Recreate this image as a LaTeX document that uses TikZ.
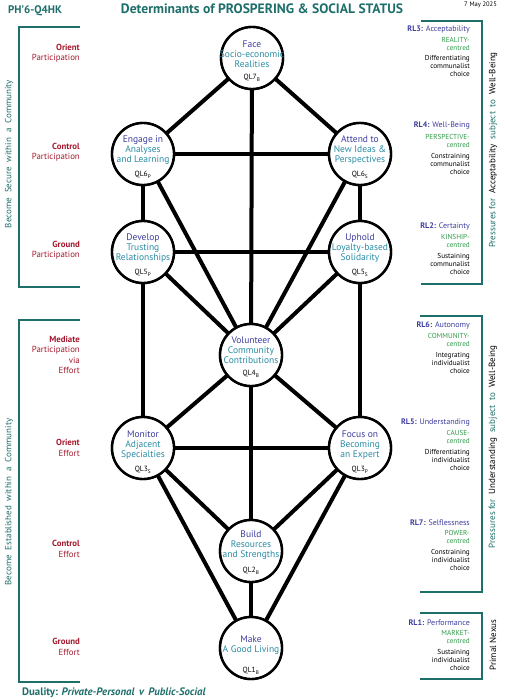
\documentclass[tikz,border=0pt]{standalone}
\usepackage{fontspec}
\setmainfont{PT Sans}
\definecolor{tealdk}{HTML}{1E6E6A}
\definecolor{qblue}{HTML}{3D3D9E}
\definecolor{qteal}{HTML}{2A8CA5}
\definecolor{dred}{HTML}{A3192D}
\definecolor{rgreen}{HTML}{2E9A48}
\begin{document}
\begin{tikzpicture}[x=1pt,y=-1pt,
  qlc/.style={circle, draw=black, line width=2.4pt, fill=white, minimum size=62pt, inner sep=0pt},
  edgeln/.style={line width=4pt, line cap=butt},
  ntxt/.style={align=center, font=\fontsize{9.5}{10.2}\selectfont, inner sep=0pt, text=qteal},
  qltxt/.style={font=\fontsize{7.5}{8}\selectfont, inner sep=0pt},
  llab/.style={align=right, anchor=east, font=\fontsize{8.8}{10.4}\selectfont, text=dred, inner sep=0pt},
  rlab/.style={anchor=east, font=\fontsize{8}{9}\selectfont, text=qblue, inner sep=0pt},
  glab/.style={align=right, anchor=east, font=\fontsize{7.2}{8.3}\selectfont, text=rgreen, inner sep=0pt},
  klab/.style={align=right, anchor=east, font=\fontsize{7.2}{8.3}\selectfont, text=black, inner sep=0pt},
  brk/.style={draw=tealdk, line width=2pt},
  sidetxt/.style={rotate=90, font=\fontsize{9}{10}\selectfont, inner sep=0pt}
]
\useasboundingbox (0,0) rectangle (504,700);

% circles (positions)
\node[qlc] (face) at (252,58) {};
\node[qlc] (engage) at (143,154) {};
\node[qlc] (attend) at (360,154) {};
\node[qlc] (develop) at (143,252) {};
\node[qlc] (uphold) at (360,252) {};
\node[qlc] (volunteer) at (251,355) {};
\node[qlc] (monitor) at (143,448) {};
\node[qlc] (focus) at (360,448) {};
\node[qlc] (build) at (251,551) {};
\node[qlc] (make) at (251,648) {};

% edges
\draw[edgeln] (face.center) -- (engage.center);
\draw[edgeln] (face.center) -- (attend.center);
\draw[edgeln] (face.center) -- (volunteer.center);
\draw[edgeln] (engage.center) -- (attend.center);
\draw[edgeln] (engage.center) -- (develop.center);
\draw[edgeln] (attend.center) -- (uphold.center);
\draw[edgeln] (engage.center) -- (volunteer.center);
\draw[edgeln] (attend.center) -- (volunteer.center);
\draw[edgeln] (develop.center) -- (uphold.center);
\draw[edgeln] (develop.center) -- (volunteer.center);
\draw[edgeln] (uphold.center) -- (volunteer.center);
\draw[edgeln] (develop.center) -- (monitor.center);
\draw[edgeln] (uphold.center) -- (focus.center);
\draw[edgeln] (volunteer.center) -- (monitor.center);
\draw[edgeln] (volunteer.center) -- (focus.center);
\draw[edgeln] (volunteer.center) -- (build.center);
\draw[edgeln] (monitor.center) -- (focus.center);
\draw[edgeln] (monitor.center) -- (build.center);
\draw[edgeln] (focus.center) -- (build.center);
\draw[edgeln] (monitor.center) -- (make.center);
\draw[edgeln] (focus.center) -- (make.center);
\draw[edgeln] (build.center) -- (make.center);

% circles on top of edges
\foreach \n in {face,engage,attend,develop,uphold,volunteer,monitor,focus,build,make}{
  \fill[white] (\n.center) circle (30pt);
  \draw[line width=2.4pt] (\n.center) circle (31pt);
}

% node texts
\node[ntxt] (tface) at ([yshift=4pt]face.center) {\textcolor{qblue}{Face}\\Socio-economic\\Realities};
\node[ntxt] (tengage) at ([yshift=4pt]engage.center) {\textcolor{qblue}{Engage in}\\Analyses\\and Learning};
\node[ntxt] (tattend) at ([yshift=4pt]attend.center) {\textcolor{qblue}{Attend to}\\New Ideas \&\\Perspectives};
\node[ntxt] (tdevelop) at ([yshift=4pt]develop.center) {\textcolor{qblue}{Develop}\\Trusting\\Relationships};
\node[ntxt] (tuphold) at ([yshift=4pt]uphold.center) {\textcolor{qblue}{Uphold}\\Loyalty-based\\Solidarity};
\node[ntxt] (tvolunteer) at ([yshift=5pt]volunteer.center) {\textcolor{qblue}{Volunteer}\\Community\\Contributions};
\node[ntxt] (tmonitor) at ([yshift=3pt]monitor.center) {\textcolor{qblue}{Monitor}\\Adjacent\\Specialties};
\node[ntxt] (tfocus) at ([yshift=3pt]focus.center) {\textcolor{qblue}{Focus on}\\Becoming\\an Expert};
\node[ntxt] (tbuild) at ([yshift=6pt]build.center) {\textcolor{qblue}{Build}\\Resources\\and Strengths};
\node[ntxt] (tmake) at ([yshift=3pt]make.center) {\textcolor{qblue}{Make}\\A Good Living};

\node[qltxt] (qface) at ([yshift=-20pt]face.center) {QL7\textsubscript{B}};
\node[qltxt] (qengage) at ([yshift=-21pt]engage.center) {QL6\textsubscript{P}};
\node[qltxt] (qattend) at ([yshift=-21pt]attend.center) {QL6\textsubscript{S}};
\node[qltxt] (qdevelop) at ([yshift=-21pt]develop.center) {QL5\textsubscript{P}};
\node[qltxt] (quphold) at ([yshift=-21pt]uphold.center) {QL5\textsubscript{S}};
\node[qltxt] (qvolunteer) at ([yshift=-19pt]volunteer.center) {QL4\textsubscript{B}};
\node[qltxt] (qmonitor) at ([yshift=-22pt]monitor.center) {QL3\textsubscript{S}};
\node[qltxt] (qfocus) at ([yshift=-22pt]focus.center) {QL3\textsubscript{P}};
\node[qltxt] (qbuild) at ([yshift=-20pt]build.center) {QL2\textsubscript{B}};
\node[qltxt] (qmake) at ([yshift=-23pt]make.center) {QL1\textsubscript{B}};

% header
\node[anchor=west, font=\bfseries\fontsize{11}{13}\selectfont, text=tealdk, inner sep=0pt] (code) at (8,11) {PH’6-Q4HK};
\node[font=\bfseries\fontsize{13.6}{15}\selectfont, text=tealdk, inner sep=0pt] (title) at (262,9) {Determinants of PROSPERING \& SOCIAL STATUS};
\node[anchor=east, font=\fontsize{6.5}{8}\selectfont, inner sep=0pt] (date) at (497,5) {7 May 2025};
\node[anchor=west, font=\bfseries\fontsize{10.8}{12}\selectfont, text=tealdk, inner sep=0pt] (duality) at (22,693) {Duality: \textit{Private-Personal\, v\, Public-Social}};

% left brackets
\draw[brk] (80,27) -- (19,27) -- (19,287) -- (80,287);
\draw[brk] (80,320) -- (19,320) -- (19,682) -- (80,682);
\node[sidetxt, text=tealdk] (lsec) at (9,154) {Become\; Secure\; within\; a\; Community};
\node[sidetxt, text=tealdk] (lest) at (9,502) {Become\; Established\; within\; a\; Community};

% left labels
\node[llab] (l1) at (80,53) {\textbf{Orient}\\Participation};
\node[llab] (l2) at (80,152) {\textbf{Control}\\Participation};
\node[llab] (l3) at (80,250) {\textbf{Ground}\\Participation};
\node[llab] (l4) at (80,355) {\textbf{Mediate}\\Participation\\via\\Effort};
\node[llab] (l5) at (80,448) {\textbf{Orient}\\Effort};
\node[llab] (l6) at (80,549) {\textbf{Control}\\Effort};
\node[llab] (l7) at (80,647) {\textbf{Ground}\\Effort};

% right brackets
\draw[brk] (421,21) -- (482,21) -- (482,284) -- (421,284);
\draw[brk] (420,316) -- (482,316) -- (482,592) -- (420,592);
\draw[brk] (420,613) -- (482,613) -- (482,679) -- (420,679);
\node[sidetxt] (racc) at (493,150) {\textcolor{tealdk}{Pressures for}\; Acceptability\; \textcolor{tealdk}{subject\; to}\; Well-Being};
\node[sidetxt] (rund) at (493,447) {\textcolor{tealdk}{Pressures for}\; Understanding\; \textcolor{tealdk}{subject\; to}\; Well-Being};
\node[sidetxt] (rnex) at (493,645) {Primal Nexus};

% right labels
\node[rlab] (rl3) at (470,29) {\textbf{RL3:} Acceptability};
\node[glab] (g3) at (470,44) {REALITY-\\centred};
\node[klab] (k3) at (470,66) {Differentiating\\communalist\\choice};

\node[rlab] (rl4) at (470,126) {\textbf{RL4:} Well-Being};
\node[glab] (g4) at (470,141) {PERSPECTIVE-\\centred};
\node[klab] (k4) at (470,164) {Constraining\\communalist\\choice};

\node[rlab] (rl2) at (470,226) {\textbf{RL2:} Certainty};
\node[glab] (g2) at (470,241) {KINSHIP-\\centred};
\node[klab] (k2) at (470,264) {Sustaining\\communalist\\choice};

\node[rlab] (rl6) at (470,325) {\textbf{RL6:} Autonomy};
\node[glab] (g6) at (470,340) {COMMUNITY-\\centred};
\node[klab] (k6) at (470,363) {Integrating\\individualist\\choice};

\node[rlab] (rl5) at (470,423) {\textbf{RL5:} Understanding};
\node[glab] (g5) at (470,437) {CAUSE-\\centred};
\node[klab] (k5) at (470,460) {Differentiating\\individualist\\choice};

\node[rlab] (rl7) at (470,523) {\textbf{RL7:} Selflessness};
\node[glab] (g7) at (470,537) {POWER-\\centred};
\node[klab] (k7) at (470,560) {Constraining\\individualist\\choice};

\node[rlab] (rl1) at (470,623) {\textbf{RL1:} Performance};
\node[glab] (g1) at (470,637) {MARKET-\\centred};
\node[klab] (k1) at (470,660) {Sustaining\\individualist\\choice};
\end{tikzpicture}
\end{document}
